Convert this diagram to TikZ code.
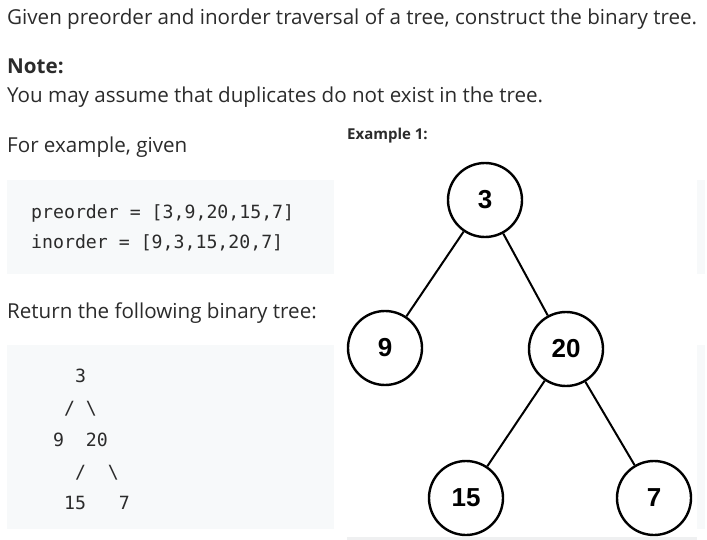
\documentclass[tikz,border=0pt]{standalone}
\usepackage{fontspec}
\setmainfont{Open Sans}
\setmonofont{DejaVu Sans Mono}
\newfontfamily\treefont{Liberation Sans}
\definecolor{codebg}{HTML}{F7F9FA}
\definecolor{txt}{HTML}{2B2B2B}
\newlength\fitw
\settowidth\fitw{\fontsize{10}{12}\selectfont Given preorder and inorder traversal of a tree, construct the binary tree.}
\pgfmathsetmacro\bodysz{10*690/\fitw}
\newcommand\bodyfont{\fontsize{\bodysz}{\bodysz}\selectfont}
\begin{document}
\begin{tikzpicture}[x=1pt,y=-1pt,
  txtnode/.style={anchor=base west,inner sep=0pt,text=txt,font=\bodyfont},
  codenode/.style={anchor=base west,inner sep=0pt,text=txt,font=\ttfamily\fontsize{18.2}{18.2}\selectfont},
  treenode/.style={circle,draw=black,line width=2.4pt,minimum size=74pt,inner sep=0pt,font=\treefont\bfseries\fontsize{26}{26}\selectfont},
  edge/.style={draw=black,line width=2pt}]
\useasboundingbox (0,0) rectangle (707,540);
\fill[white] (0,0) rectangle (707,540);
% code boxes
\fill[codebg] (7,180) rectangle (705,274);
\fill[codebg] (7,345) rectangle (705,529);
% tree image backdrop
\fill[white] (334,118) rectangle (697,536);
\fill[codebg!85!gray!60] (347,536.5) rectangle (697,540);
% texts
\node[txtnode] (t1) at (7,25) {Given preorder and inorder traversal of a tree, construct the binary tree.};
\node[txtnode,font=\bodyfont\bfseries] (t2) at (7,74) {Note:};
\node[txtnode] (t3) at (7,103) {You may assume that duplicates do not exist in the tree.};
\node[txtnode] (t4) at (7,153) {For example, given};
\node[txtnode] (t5) at (7,318) {Return the following binary tree:};
\node[txtnode,font=\fontsize{15}{15}\selectfont\bfseries] (ex) at (347,140) {Example 1:};
% code
\node[codenode] (c1) at (31,219) {preorder = [3,9,20,15,7]};
\node[codenode] (c2) at (31,249) {inorder = [9,3,15,20,7]};
\node[codenode] (a1) at (31,382) {\ \ \ \ 3};
\node[codenode] (a2) at (31,414) {\ \ \ / \textbackslash};
\node[codenode] (a3) at (31,446) {\ \ 9\ \ 20};
\node[codenode] (a4) at (31,478) {\ \ \ \ /\ \ \textbackslash};
\node[codenode] (a5) at (31,509) {\ \ \ 15\ \ \ 7};
% tree
\node[treenode] (n3) at (485,200) {3};
\node[treenode] (n9) at (385,348) {9};
\node[treenode] (n20) at (566,349) {20};
\node[treenode] (n15) at (466,498) {15};
\node[treenode] (n7) at (654,498) {7};
\draw[edge] (n3) -- (n9);
\draw[edge] (n3) -- (n20);
\draw[edge] (n20) -- (n15);
\draw[edge] (n20) -- (n7);
\end{tikzpicture}
\end{document}
